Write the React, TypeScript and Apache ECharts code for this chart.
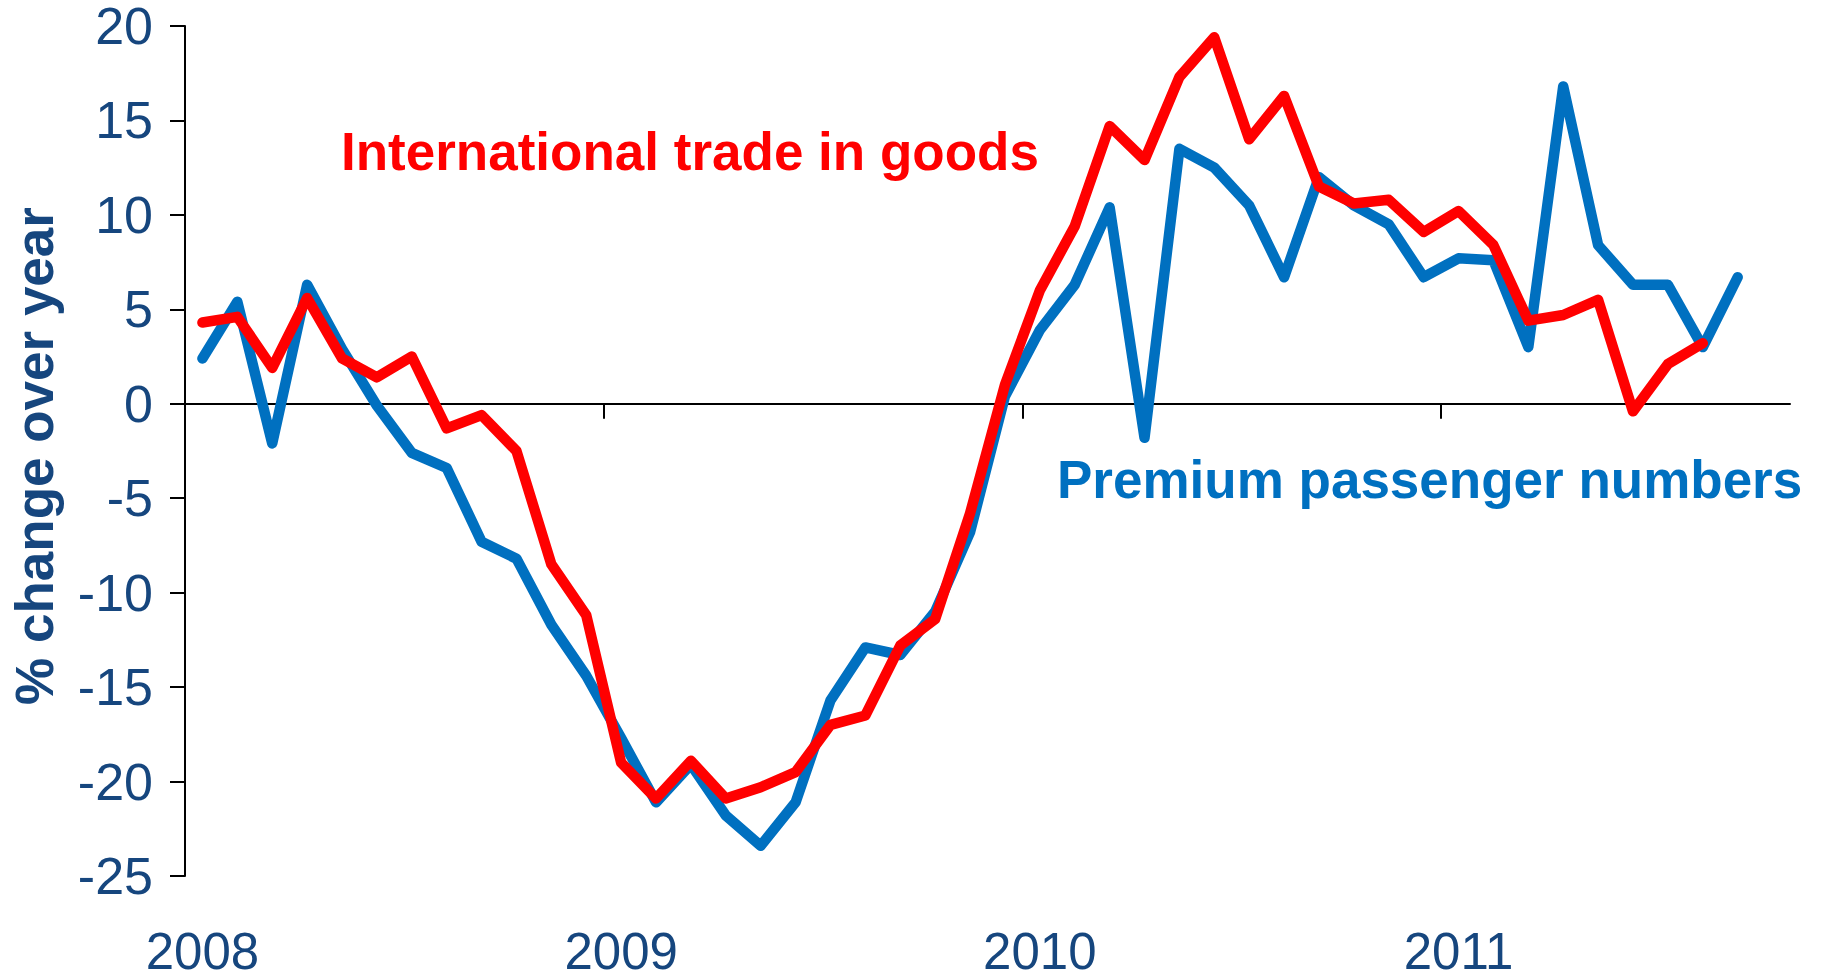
import React, { useEffect, useRef } from "react";
import * as echarts from "echarts";

const months: string[] = [
  "2008-01", "2008-02", "2008-03", "2008-04", "2008-05", "2008-06", "2008-07", "2008-08", "2008-09", "2008-10", "2008-11", "2008-12",
  "2009-01", "2009-02", "2009-03", "2009-04", "2009-05", "2009-06", "2009-07", "2009-08", "2009-09", "2009-10", "2009-11", "2009-12",
  "2010-01", "2010-02", "2010-03", "2010-04", "2010-05", "2010-06", "2010-07", "2010-08", "2010-09", "2010-10", "2010-11", "2010-12",
  "2011-01", "2011-02", "2011-03", "2011-04", "2011-05", "2011-06", "2011-07", "2011-08", "2011-09", "2011-10",
];

const premiumPassengers: number[] = [
  2.4, 5.4, -2.1, 6.3, 2.9, -0.1, -2.6, -3.4, -7.3, -8.2, -11.7, -14.4,
  -17.7, -21.1, -19.1, -21.8, -23.4, -21.1, -15.7, -12.9, -13.3, -11.0, -6.8, 0.4,
  3.9, 6.3, 10.4, -1.8, 13.5, 12.5, 10.5, 6.7, 12.0, 10.5, 9.5, 6.7,
  7.7, 7.6, 3.0, 16.8, 8.4, 6.3, 6.3, 3.0, 6.7,
];

const tradeInGoods: number[] = [
  4.3, 4.6, 1.9, 5.6, 2.4, 1.4, 2.5, -1.3, -0.6, -2.5, -8.5, -11.2,
  -19.0, -20.9, -18.9, -20.9, -20.3, -19.5, -17.0, -16.5, -12.8, -11.4, -5.8, 1.0,
  6.0, 9.4, 14.7, 12.9, 17.3, 19.4, 14.0, 16.3, 11.5, 10.6, 10.8, 9.1,
  10.2, 8.4, 4.4, 4.7, 5.5, -0.4, 2.1, 3.2,
];

// month boundaries (start of each month, plus the end of the last one) for the zero-line ticks
const monthBoundaries: string[] = [...months, "2011-11"];

const yMin = -25;
const yMax = 20;
const yStep = 5;

const FONT = "'Liberation Sans', Arial, sans-serif";
const LABEL_COLOR = "#16467E";
const RED = "#FF0000";
const BLUE = "#0070C0";

export default function App() {
  const ref = useRef<HTMLDivElement>(null);

  useEffect(() => {
    if (!ref.current) return;
    const chart = echarts.init(ref.current, undefined, { renderer: "svg" });
    const yearOnly = (idx: number) => idx % 12 === 0;
    chart.setOption({
      animation: false,
      backgroundColor: "#ffffff",
      grid: { left: 185, right: 36, top: 22, bottom: 104, containLabel: false },
      xAxis: [
        {
          type: "category",
          data: monthBoundaries,
          position: "top",
          boundaryGap: false,
          axisLine: { show: true, onZero: true, lineStyle: { color: "#000000", width: 2 } },
          axisTick: { show: true, inside: true, length: 15, interval: yearOnly, lineStyle: { color: "#000000", width: 2 } },
          axisLabel: { show: false },
          splitLine: { show: false },
        },
        {
          type: "category",
          data: months,
          position: "bottom",
          boundaryGap: true,
          axisLine: { show: false, onZero: false },
          axisTick: { show: false },
          axisLabel: {
            show: true,
            interval: yearOnly,
            formatter: (v: string) => v.slice(0, 4),
            color: LABEL_COLOR,
            fontSize: 51,
            lineHeight: 40,
            fontFamily: FONT,
            margin: 75,
            verticalAlign: "middle",
          },
          splitLine: { show: false },
        },
      ],
      yAxis: {
        type: "value",
        min: yMin,
        max: yMax,
        interval: yStep,
        position: "left",
        axisLine: { show: true, onZero: false, lineStyle: { color: "#000000", width: 2 } },
        axisTick: { show: true, inside: false, length: 15, lineStyle: { color: "#000000", width: 2 } },
        axisLabel: { color: LABEL_COLOR, fontSize: 52, lineHeight: 40, fontFamily: FONT, margin: 32 },
        splitLine: { show: false },
      },
      series: [
        {
          name: "Premium passenger numbers",
          type: "line",
          xAxisIndex: 1,
          data: premiumPassengers,
          symbol: "none",
          lineStyle: { color: BLUE, width: 10.5, cap: "round", join: "round" },
          z: 3,
        },
        {
          name: "International trade in goods",
          type: "line",
          xAxisIndex: 1,
          data: tradeInGoods,
          symbol: "none",
          lineStyle: { color: RED, width: 10.5, cap: "round", join: "round" },
          z: 4,
        },
      ],
      graphic: [
        {
          type: "text",
          x: 341,
          y: 151,
          style: {
            text: "International trade in goods",
            fill: RED,
            font: `bold 53px ${FONT}`,
            align: "left",
            verticalAlign: "middle",
          },
        },
        {
          type: "text",
          x: 1057,
          y: 479,
          style: {
            text: "Premium passenger numbers",
            fill: BLUE,
            font: `bold 53px ${FONT}`,
            align: "left",
            verticalAlign: "middle",
          },
        },
        {
          type: "text",
          x: 34,
          y: 456,
          rotation: Math.PI / 2,
          style: {
            text: "% change over year",
            fill: LABEL_COLOR,
            font: `bold 53px ${FONT}`,
            align: "center",
            verticalAlign: "middle",
          },
        },
      ],
    });
    return () => chart.dispose();
  }, []);

  return (
    <div
      ref={ref}
      style={{ position: "fixed", left: 0, top: 0, width: 1826, height: 980, background: "#ffffff" }}
    />
  );
}
